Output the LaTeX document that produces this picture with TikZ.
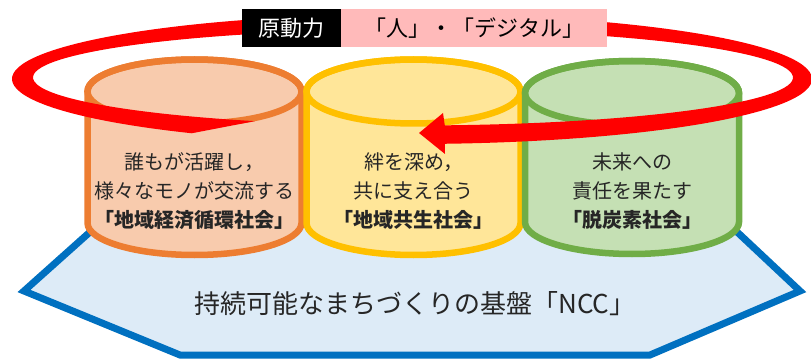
\documentclass[tikz,border=0pt]{standalone}
\usepackage{fontspec}
\setmainfont{Noto Sans CJK JP}
\usepackage{tikz}
\usetikzlibrary{positioning,calc}

\definecolor{lineorng}{HTML}{ED7D31}
\definecolor{fillorng}{HTML}{F8CBAD}
\definecolor{lineyell}{HTML}{FFC000}
\definecolor{fillyell}{HTML}{FFE699}
\definecolor{linegrn}{HTML}{70AD47}
\definecolor{fillgrn}{HTML}{C5E0B4}
\definecolor{lineblue}{HTML}{0070C0}
\definecolor{fillblue}{HTML}{DDEBF7}
\definecolor{ringred}{HTML}{FF0000}
\definecolor{tagpink}{HTML}{FFBABA}
\definecolor{inkgray}{HTML}{262626}

\tikzset{
  drum/.style={line width=6.5pt},
  base/.style={draw=lineblue, fill=fillblue, line width=7pt},
  ring/.style={fill=ringred},
  drumtext/.style={align=center, inner sep=0pt, text=inkgray,
    font=\fontsize{20pt}{29pt}\selectfont},
  tagbox/.style={minimum height=38pt, inner sep=0pt,
    font=\fontsize{22pt}{22pt}\selectfont},
}

\begin{document}
\begin{tikzpicture}[x=1pt,y=1pt]
    \useasboundingbox (0,0) rectangle (811,362);
    % foundation hexagon
    \coordinate (hl) at (24,71);
    \coordinate (htl) at (109,147);
    \coordinate (htr) at (719,147);
    \coordinate (hr) at (800,71);
    \coordinate (hbr) at (650,7);
    \coordinate (hbl) at (180,7);
    \filldraw[base] (hl) -- (htl) -- (htr) -- (hr) -- (hbr) -- (hbl) -- cycle;
    \node[text=inkgray, font=\fontsize{26pt}{26pt}\selectfont] (ncc) at (415,58)
        {持続可能なまちづくりの基盤「NCC」};
    % three drums, left to right
    \foreach \cx/\ty/\by/\col in {194.5/270.5/139/orng, 413.5/270.5/139/yell, 632/269/140/grn} {
        \filldraw[drum, draw=line\col, fill=fill\col] (\cx-107,\ty) -- (\cx-107,\by)
            arc[start angle=180, end angle=360, x radius=107pt, y radius=32pt]
            -- (\cx+107,\ty)
            arc[start angle=0, end angle=180, x radius=107pt, y radius=32pt] -- cycle;
        \draw[drum, draw=line\col] (\cx,\ty) ellipse[x radius=107pt, y radius=32pt];
    }
    \node[drumtext] (econ) at (194.5,171)
        {誰もが活躍し，\\様々なモノが交流する\\{\bfseries 「地域経済循環社会」}};
    \node[drumtext] (kyosei) at (413.5,171)
        {絆を深め，\\共に支え合う\\{\bfseries 「地域共生社会」}};
    \node[drumtext] (decarb) at (632,171)
        {未来への\\責任を果たす\\{\bfseries 「脱炭素社会」}};
    % red circular arrow round the drums
    \coordinate (oc) at (412,283);
    \coordinate (ic) at (413,284.5);
    \coordinate (tipbot) at (445,208);
    \coordinate (tip) at (419,229);
    \coordinate (tiptop) at (443,249);
    \fill[ring] ($(oc)+(236.6:400pt and 65pt)$)
        arc[start angle=236.6, end angle=-85.3, x radius=400pt, y radius=65pt]
        -- (tipbot) -- (tip) -- (tiptop)
        -- ($(ic)+(-85.2:380pt and 48pt)$)
        arc[start angle=-85.2, end angle=245.4, x radius=380pt, y radius=48pt] -- cycle;
    % driving force label
    \node[tagbox, fill=black, text=white, minimum width=99pt] (gen) at (291.5,334) {原動力};
    \node[tagbox, fill=tagpink, minimum width=266pt, right=0pt of gen] (hito)
        {「人」・「デジタル」};
\end{tikzpicture}
\end{document}
